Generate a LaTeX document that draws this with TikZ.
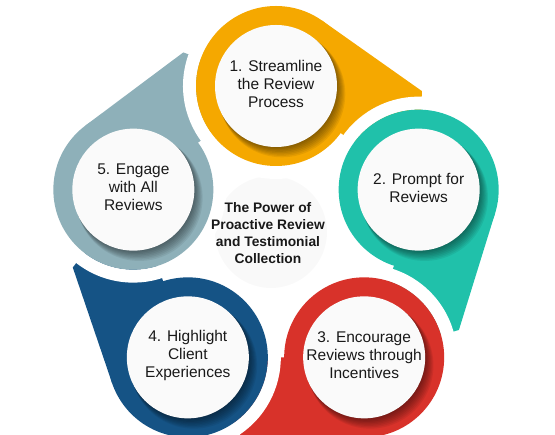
\documentclass[tikz,border=0pt]{standalone}
\usepackage{fontspec}
\setmainfont{Liberation Sans}
\definecolor{cOrange}{HTML}{F5A800}
\definecolor{cTeal}{HTML}{20C1AA}
\definecolor{cRed}{HTML}{D8322A}
\definecolor{cBlue}{HTML}{155385}
\definecolor{cGray}{HTML}{8EB0B9}
\definecolor{cDisc}{HTML}{FAFAFA}
\tikzset{
  itemtext/.style={align=center, font=\fontsize{15.5}{18}\selectfont, text=black!90},
  titletext/.style={align=center, font=\fontsize{13.8}{17}\selectfont\bfseries, text=black!90},
}
\begin{document}
\begin{tikzpicture}[x=1pt,y=1pt]
\useasboundingbox (0,0) rectangle (555,435);
\coordinate (O) at (276,199);
% faint centre disc
\fill[gray!5] (271,203) circle (56);
% ring centres
\foreach \a [count=\i] in {90, 18, -54, -126, 162} {
  \path (O) ++(\a:150) coordinate (C\i);
}
% tails
\foreach \a/\c/\n [count=\i] in {90/cOrange/2, 18/cTeal/3, -54/cRed/4, -126/cBlue/5, 162/cGray/1} {
  \fill[\c] ([shift={(\a-92:146)}]C\i) -- ([shift={(\a-35.2:80)}]C\i) -- (C\i) -- (C\n) -- cycle;
}
% rings
\foreach \a/\c/\t [count=\i] in {90/cOrange/{1. Streamline\\the Review\\Process}, 18/cTeal/{2. Prompt for\\Reviews}, -54/cRed/{3. Encourage\\Reviews through\\Incentives}, -126/cBlue/{4. Highlight\\Client\\Experiences}, 162/cGray/{5. Engage\\with All\\Reviews}} {
  \draw[white, line width=13] ([shift={(\a+15:86.5)}]C\i) arc[start angle=\a+15, end angle=\a+205, radius=86.5];
  \fill[\c] (C\i) circle (80);
  \foreach \k in {1,...,8} {
    \fill[black, opacity=0.065] ([shift={(\k*0.75,-\k*1.0)}]C\i) circle (60.5+\k*0.35);
  }
  \fill[cDisc] (C\i) circle (61);
  \node[itemtext] (t\i) at ([yshift=2]C\i) {\t};
}
% title
\node[titletext] (title) at (268,202) {The Power of\\Proactive Review\\and Testimonial\\Collection};
\end{tikzpicture}
\end{document}
